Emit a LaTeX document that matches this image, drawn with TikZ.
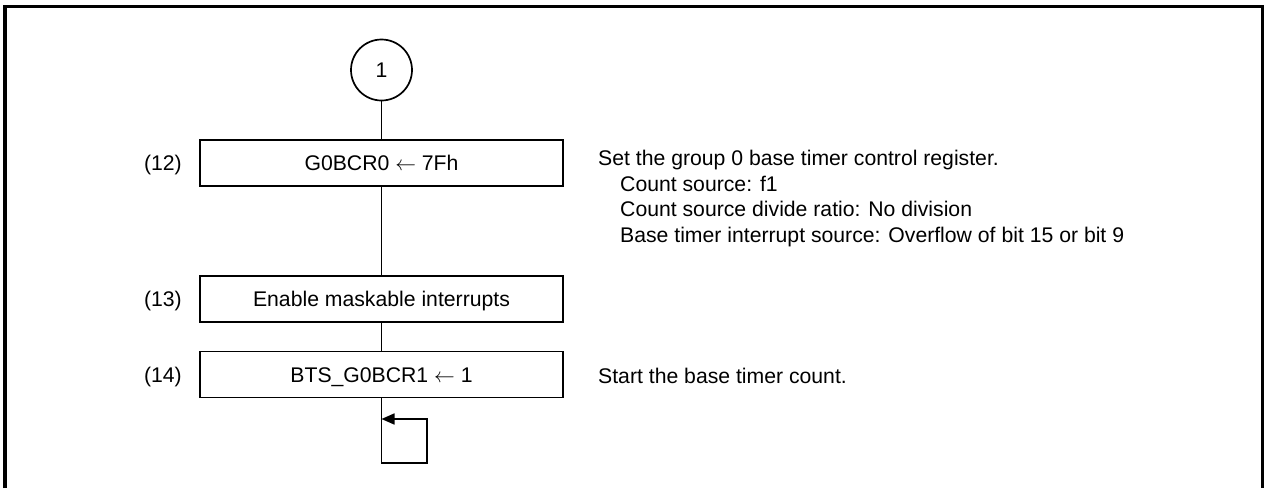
\documentclass[tikz,border=0pt]{standalone}
\usepackage{fontspec}
\setmainfont{Liberation Sans}
\usetikzlibrary{arrows.meta}
\newcommand{\asgn}{\ensuremath{\leftarrow}}
\begin{document}
\begin{tikzpicture}[x=1pt,y=-1pt,
  font=\fontsize{21.2pt}{25.5pt}\selectfont,
  stepbox/.style={draw, line width=1.7pt, minimum width=363pt, minimum height=46pt, inner sep=0pt, text height=15.2pt, text depth=0pt},
  connector/.style={line width=1.7pt},
  steplbl/.style={anchor=east, inner sep=0pt, text height=15.2pt, text depth=0pt},
  note/.style={anchor=base west, inner sep=0pt},
  frame/.style={line width=3.2pt}]
\useasboundingbox (0,0) rectangle (1265,488);
% outer frame (bottom edge outside the picture)
\draw[frame] (5,488) -- (5,6.5) -- (1262.5,6.5) -- (1262.5,488);
% connector circle
\node[draw, circle, line width=1.7pt, minimum size=61pt, inner sep=0pt, text height=15.2pt, text depth=0pt] (c1) at (381.5,70) {1};
% boxes
\node[stepbox] (b12) at (381.5,163) {G0BCR0 \asgn{} 7Fh};
\node[stepbox] (b13) at (381.5,299) {Enable maskable interrupts};
\node[stepbox] (b14) at (381.5,374.5) {BTS\_G0BCR1 \asgn{} 1};
% step labels
\node[steplbl] (l12) at (182,163) {(12)};
\node[steplbl] (l13) at (182,299) {(13)};
\node[steplbl] (l14) at (182,374.5) {(14)};
% notes
\node[note] (n1) at (598,165) {Set the group 0 base timer control register.};
\node[note] (n2) at (620,191) {Count source: f1};
\node[note] (n3) at (620,216.5) {Count source divide ratio: No division};
\node[note] (n4) at (620,242) {Base timer interrupt source: Overflow of bit 15 or bit 9};
\node[note] (n5) at (598,383) {Start the base timer count.};
% connectors
\draw[connector] (c1.south) -- (b12.north);
\draw[connector] (b12.south) -- (b13.north);
\draw[connector] (b13.south) -- (b14.north);
\coordinate (lp1) at (381.5,463);
\coordinate (lp2) at (427,463);
\coordinate (lp3) at (427,419);
\coordinate (lp4) at (381.5,419);
\draw[connector, -{Triangle[length=13pt,width=11pt]}] (b14.south) -- (lp1) -- (lp2) -- (lp3) -- (lp4);
\end{tikzpicture}
\end{document}
